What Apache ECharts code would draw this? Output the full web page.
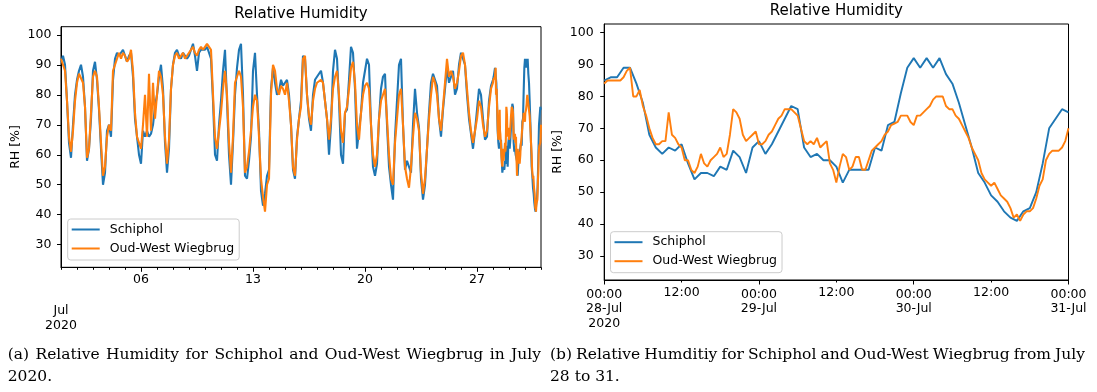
<!DOCTYPE html>
<html><head><meta charset="utf-8">
<script src="https://cdn.jsdelivr.net/npm/echarts@6/dist/echarts.min.js"></script>
<style>html,body{margin:0;padding:0;background:#fff}#c{width:1097px;height:392px}</style>
</head><body><div id="c"></div>
<script>
// ---------------- DATA ----------------
const seriesNames = ['Schiphol', 'Oud-West Wiegbrug'];
const yTicks = [30, 40, 50, 60, 70, 80, 90, 100];
const leftTickDays = [6, 13, 20, 27];
const leftTickLabels = ['06', '13', '20', '27'];
const leftStartLabel = 'Jul\n2020';
const rightTickHours = [0, 12, 24, 36, 48, 60, 72];
const rightTickLabels = ['00:00\n28-Jul\n2020', '12:00', '00:00\n29-Jul', '12:00', '00:00\n30-Jul', '12:00', '00:00\n31-Jul'];

// July 1 - July 27, every 3 hours (00,03,06,09,12,15,18,21)
const monthSchiphol3h = [
 91,93,90,78,64,59,70,80,  85,88,90,86,76,58,62,72,  88,91,85,75,62,50,54,68,
 70,66,85,92,94,93,93,95,  95,91,93,94,86,72,66,60,  57,68,66,68,66,67,70,76,
 80,86,90,82,64,54,62,82,  90,94,95,93,92,94,93,92,  93,95,97,93,88,94,95,95,
 95,96,94,92,78,60,58,70,  78,88,95,78,60,50,64,80,  89,95,97,80,53,52,58,66,
 88,94,80,68,48,43,47,53,  55,82,89,84,80,81,85,83,  84,85,80,70,55,52,66,72,
 78,93,92,80,72,68,80,85,  86,87,88,84,78,72,60,70,  88,95,92,78,60,57,74,75,
 85,96,94,82,62,62,74,84,  88,92,90,70,56,53,57,72,  82,86,87,70,56,50,45,66,
 78,90,92,70,55,58,56,54,  70,82,74,69,52,45,50,62,  74,84,87,85,83,72,66,75,
 82,89,84,86,88,80,82,90,  94,94,90,80,72,67,62,68,  75,82,80,72,65,66,78,83
];
const monthOudWest3h = [
 92,92,88,78,66,61,68,78,  84,87,87,84,76,59,62,74,  86,88,86,76,64,53,56,66,
 70,68,88,90,92,94,92,94,  93,91,92,95,88,74,66,64,  62,70,80,66,87,68,84,72,
 80,88,86,80,66,57,65,82,  90,93,94,92,93,94,92,93,  94,95,96,94,93,95,96,95,
 96,97,97,95,80,66,62,68,  74,82,88,80,64,54,66,84,  86,88,86,76,54,56,61,68,
 76,80,78,66,52,46,41,50,  52,80,90,88,82,80,83,82,  80,84,78,70,56,53,65,72,
 76,92,93,80,73,70,78,82,  84,84,85,84,78,72,65,72,  82,86,88,80,68,64,74,76,
 82,89,91,84,70,65,74,80,  83,84,82,70,60,56,60,72,  78,80,82,72,60,52,50,64,
 72,80,82,70,56,52,49,56,  66,74,72,68,54,47,52,62,  72,80,86,84,80,72,68,76,
 84,92,86,88,86,82,84,88,  93,94,90,82,74,68,64,68,  72,78,76,70,66,68,76,82
];
// July 28 00:00 - July 31 00:00, Schiphol hourly
const endSchiphol1h = [
 85,86,86,89,89,84,78,68,64,62,64,63,65,59,54,56,56,55,58,57,63,61,56,64,
 66,62,65,69,73,77,76,64,61,62,60,60,58,53,57,57,57,57,64,63,71,72,81,89,
 92,89,92,89,92,87,84,78,71,64,56,53,49,47,44,42,41,44,45,50,59,70,73,76,
 75
];
// July 28 00:00 - July 31 00:00, Oud-West every 30 minutes
const endOudWest30m = [
 84,85,85,85,85,85,86,88,89,80,80,82,77,74,70,67,65,65,66,66,75,68,67,65,
 64,60,60,57,56,58,62,59,58,60,61,62,64,61,62,68,76,75,73,68,66,67,68,69,
 65,65,66,68,69,71,73,74,76,76,76,75,74,70,66,65,66,65,67,64,65,66,59,57,
 53,58,62,61,57,58,61,61,57,57,60,63,64,65,66,68,69,71,71.5,72,74,74,74,72,
 71,74,74,75,76,77,79,80,80,80,77,76,76,74,73,71,69,67,64,62,60,56,54,53,
 52,53,51,49,48,47,45,42,43,41,43,44,44,45,48,52,54,60,62,63,63,63,64,66,
 70
];
const captionA = ['(a) Relative Humidity for Schiphol and Oud-West Wiegbrug in July', '2020.'];
const captionB = ['(b) Relative Humditiy for Schiphol and Oud-West Wiegbrug from July', '28 to 31.'];
const titleText = 'Relative Humidity';
const yName = 'RH [%]';

// ---------------- BUILD ----------------
const HOUR = 3600000, DAY = 86400000;
const T_JUL1 = Date.UTC(2020, 6, 1);
const T_JUL28 = Date.UTC(2020, 6, 28);
const T_JUL31 = Date.UTC(2020, 6, 31);
const Y_MIN = 22.47, Y_MAX = 102.7;
const BLUE = '#1f77b4', ORANGE = '#ff7f0e';
const SANS = 'DejaVu Sans';

const toPairs = (arr, t0, step) => arr.map((v, i) => [t0 + i * step, v]);
const leftBlue = toPairs(monthSchiphol3h, T_JUL1, 3 * HOUR).concat(toPairs(endSchiphol1h, T_JUL28, HOUR));
const leftOrange = toPairs(monthOudWest3h, T_JUL1, 3 * HOUR).concat(toPairs(endOudWest30m, T_JUL28, HOUR / 2));
const rightBlue = toPairs(endSchiphol1h, T_JUL28, HOUR);
const rightOrange = toPairs(endOudWest30m, T_JUL28, HOUR / 2);

const dayTicks = Array.from({length: 31}, (_, i) => T_JUL1 + i * DAY);
const leftLabelVals = leftTickDays.map(d => T_JUL1 + (d - 1) * DAY);
const rightVals = rightTickHours.map(h => T_JUL28 + h * HOUR);
const rightMajor = rightVals.filter((_, i) => i % 2 === 0);
const rightMinor = rightVals.filter((_, i) => i % 2 === 1);
const labelFor = (vals, labels) => v => { const i = vals.indexOf(v); return i >= 0 ? labels[i] : ''; };

const axisColor = '#000';
function yAxis(gridIndex, margin, nameGap) {
  return {
    gridIndex, type: 'value', min: Y_MIN, max: Y_MAX,
    axisLine: {show: true, lineStyle: {color: axisColor, width: 1}},
    axisTick: {show: true, length: 4, customValues: yTicks, lineStyle: {color: axisColor}},
    axisLabel: {customValues: yTicks, fontSize: 12.5, color: '#000', fontFamily: SANS, margin},
    splitLine: {show: false},
    name: yName, nameLocation: 'middle', nameGap,
    nameTextStyle: {fontSize: 12.5, color: '#000', fontFamily: SANS}
  };
}
function xBase(gridIndex, min, max) {
  return {gridIndex, type: 'value', min, max, position: 'bottom', splitLine: {show: false}};
}
const lbl = {fontSize: 12.5, color: '#000', fontFamily: SANS, lineHeight: 14.5};

const xAxes = [
  Object.assign(xBase(0, T_JUL1, T_JUL31), {
    axisLine: {show: true, lineStyle: {color: axisColor}},
    axisTick: {show: true, length: 2.5, customValues: dayTicks, lineStyle: {color: axisColor}},
    axisLabel: Object.assign({customValues: leftLabelVals, formatter: labelFor(leftLabelVals, leftTickLabels), margin: 4.7, showMinLabel: true, showMaxLabel: true}, lbl)
  }),
  Object.assign(xBase(0, T_JUL1, T_JUL31), {
    axisLine: {show: false},
    axisTick: {show: true, length: 4.5, customValues: leftLabelVals, lineStyle: {color: axisColor}},
    axisLabel: Object.assign({customValues: [T_JUL1], formatter: () => leftStartLabel, margin: 36.5, showMinLabel: true}, lbl)
  }),
  Object.assign(xBase(1, T_JUL28, T_JUL31), {
    axisLine: {show: true, lineStyle: {color: axisColor}},
    axisTick: {show: true, length: 4.5, customValues: rightMajor, lineStyle: {color: axisColor}},
    axisLabel: Object.assign({customValues: rightMajor, formatter: labelFor(rightVals, rightTickLabels), margin: 7, showMinLabel: true, showMaxLabel: true}, lbl)
  }),
  Object.assign(xBase(1, T_JUL28, T_JUL31), {
    axisLine: {show: false},
    axisTick: {show: true, length: 2.5, customValues: rightMinor, lineStyle: {color: axisColor}},
    axisLabel: Object.assign({customValues: rightMinor, formatter: labelFor(rightVals, rightTickLabels), margin: 5.4}, lbl)
  })
];

function legend(left, top) {
  return {
    left, top, orient: 'vertical', data: seriesNames, icon: 'rect',
    itemWidth: 28, itemHeight: 2, itemGap: 4, padding: [3, 5, 4, 4],
    backgroundColor: 'rgba(255,255,255,0.8)', borderColor: '#cccccc', borderWidth: 1, borderRadius: 3,
    textStyle: {fontSize: 12.5, color: '#000', fontFamily: SANS, lineHeight: 15, padding: [0, 0, 0, 5]}
  };
}
function line(name, data, color, xi, yi, width) {
  return {name, type: 'line', data, xAxisIndex: xi, yAxisIndex: yi, showSymbol: false, symbol: 'none',
    lineStyle: {color, width}, itemStyle: {color}, clip: true, animation: false};
}

// captions (justified text)
const CAP_FONT = 15.5, CAP_FAMILY = 'DejaVu Serif';
const mctx = document.createElement('canvas').getContext('2d');
mctx.font = CAP_FONT + 'px "' + CAP_FAMILY + '"';
function captionLine(text, x0, x1, y, justify) {
  const words = text.split(' ');
  const widths = words.map(w => mctx.measureText(w).width);
  const total = widths.reduce((a, b) => a + b, 0);
  const normal = mctx.measureText(' ').width;
  const gap = (justify && words.length > 1) ? Math.max(normal * 0.6, (x1 - x0 - total) / (words.length - 1)) : normal;
  let x = x0;
  return words.map((w, i) => {
    const el = {type: 'text', x, y, silent: true,
      style: {text: w, fontSize: CAP_FONT, fontFamily: CAP_FAMILY, fill: '#000', textAlign: 'left', textVerticalAlign: 'middle'}};
    x += widths[i] + gap;
    return el;
  });
}
const graphics = [
  {type: 'text', x: 301, y: 14, silent: true, style: {text: titleText, fontSize: 15, fontFamily: SANS, fill: '#000', textAlign: 'center', textVerticalAlign: 'middle'}},
  {type: 'text', x: 836.3, y: 11, silent: true, style: {text: titleText, fontSize: 15, fontFamily: SANS, fill: '#000', textAlign: 'center', textVerticalAlign: 'middle'}}
].concat(
  captionLine(captionA[0], 7.7, 541, 354.5, true),
  captionLine(captionA[1], 7.7, 541, 376.5, false),
  captionLine(captionB[0], 550, 1085, 354.5, true),
  captionLine(captionB[1], 550, 1085, 376.5, false)
);

const chart = echarts.init(document.getElementById('c'), null, {renderer: 'canvas'});
chart.setOption({
  animation: false,
  backgroundColor: '#fff',
  grid: [
    {left: 61, top: 26.7, width: 480, height: 240.6, show: true, borderColor: '#000', borderWidth: 1, backgroundColor: 'transparent'},
    {left: 604.2, top: 24, width: 464.3, height: 256, show: true, borderColor: '#000', borderWidth: 1, backgroundColor: 'transparent'}
  ],
  xAxis: xAxes,
  yAxis: [yAxis(0, 9.6, 39), yAxis(1, 10.5, 40)],
  legend: [legend(67.7, 219), legend(610.5, 231.7)],
  series: [
    line(seriesNames[0], leftBlue, BLUE, 0, 0, 2.1),
    line(seriesNames[1], leftOrange, ORANGE, 0, 0, 2.1),
    line(seriesNames[0], rightBlue, BLUE, 2, 1, 1.9),
    line(seriesNames[1], rightOrange, ORANGE, 2, 1, 1.9)
  ],
  graphic: graphics
});
</script>
</body></html>
